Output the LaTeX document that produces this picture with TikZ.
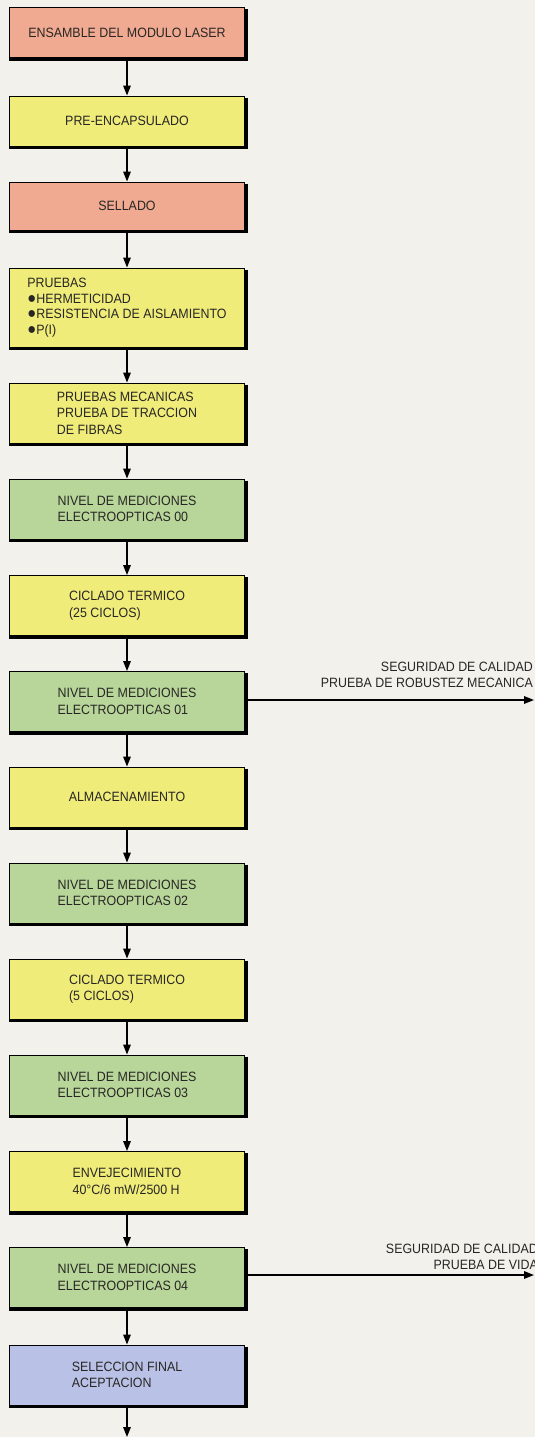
\documentclass[tikz,border=0pt]{standalone}
\usepackage{fontspec}
\setmainfont{Liberation Sans}[FakeStretch=0.92]
\usetikzlibrary{arrows.meta}
\definecolor{paper}{RGB}{243,241,236}
\definecolor{salmon}{RGB}{240,170,145}
\definecolor{lemon}{RGB}{240,236,122}
\definecolor{sage}{RGB}{184,214,154}
\definecolor{lavender}{RGB}{186,193,230}
\definecolor{ink}{RGB}{40,38,36}
% list bullet, drawn a little larger than the text
\newcommand{\listdot}{{\fontsize{16}{15.5}\selectfont●}}
\begin{document}
\begin{tikzpicture}[x=1pt,y=-1pt,
  stage/.style={draw=black, line width=1pt, minimum width=235pt, minimum height=60pt,
    align=left, inner sep=0pt, text=ink, font=\fontsize{13.5}{16.5}\selectfont},
  flow/.style={line width=1.5pt, -{Triangle[width=7.5pt,length=10pt]}},
  note/.style={anchor=south east, align=right, inner sep=0pt, text=ink, font=\fontsize{13.5}{16.5}\selectfont}]
\fill[paper] (0,0) rectangle (535,1437);
\useasboundingbox (0,0) rectangle (535,1437);

% process stages, top to bottom
\node[stage, fill=salmon, minimum height=50pt] (s1) at (127,33) {ENSAMBLE DEL MODULO LASER};
\node[stage, fill=lemon, minimum height=50pt] (s2) at (127,121) {PRE-ENCAPSULADO};
\node[stage, fill=salmon, minimum height=48pt] (s3) at (127,206) {SELLADO};
\node[stage, fill=lemon, minimum height=79pt, font=\fontsize{13.5}{15.5}\selectfont] (s4) at (127,307.5)
  {PRUEBAS\\\listdot HERMETICIDAD\\\listdot RESISTENCIA DE AISLAMIENTO\\\listdot P(I)};
\node[stage, fill=lemon] (s5) at (127,413) {PRUEBAS MECANICAS\\PRUEBA DE TRACCION\\DE FIBRAS};
\node[stage, fill=sage] (s6) at (127,509) {NIVEL DE MEDICIONES\\ELECTROOPTICAS 00};
\node[stage, fill=lemon] (s7) at (127,605.5) {CICLADO TERMICO\\(25 CICLOS)};
\node[stage, fill=sage] (s8) at (127,701.5) {NIVEL DE MEDICIONES\\ELECTROOPTICAS 01};
\node[stage, fill=lemon] (s9) at (127,797) {ALMACENAMIENTO};
\node[stage, fill=sage] (s10) at (127,893) {NIVEL DE MEDICIONES\\ELECTROOPTICAS 02};
\node[stage, fill=lemon] (s11) at (127,989) {CICLADO TERMICO\\(5 CICLOS)};
\node[stage, fill=sage] (s12) at (127,1085) {NIVEL DE MEDICIONES\\ELECTROOPTICAS 03};
\node[stage, fill=lemon] (s13) at (127,1181.5) {ENVEJECIMIENTO\\40°C/6 mW/2500 H};
\node[stage, fill=sage] (s14) at (127,1277.5) {NIVEL DE MEDICIONES\\ELECTROOPTICAS 04};
\node[stage, fill=lavender] (s15) at (127,1375) {SELECCION FINAL\\ACEPTACION};

% heavy right and bottom edges of every stage
\foreach \n in {s1,s2,s3,s4,s5,s6,s7,s8,s9,s10,s11,s12,s13,s14,s15}
  \draw[line width=3.4pt] ([xshift=1.2pt,yshift=-2pt]\n.north east) -- ([xshift=1.2pt,yshift=-1.2pt]\n.south east)
    -- ([yshift=-1.2pt]\n.south west);

% main flow
\foreach \a/\b in {s1/s2,s2/s3,s3/s4,s4/s5,s5/s6,s6/s7,s7/s8,s8/s9,s9/s10,s10/s11,s11/s12,s12/s13,s13/s14,s14/s15}
  \draw[flow] ([yshift=-2.5pt]\a.south) -- (\b.north);
\coordinate (out) at (127,1437);
\draw[flow] ([yshift=-2.5pt]s15.south) -- (out);

% quality assurance branches
\coordinate (qa1) at (534,700);
\draw[flow] ([xshift=2.5pt]s8.east |- qa1) -- (qa1);
\node[note] (n1) at (533,688) {SEGURIDAD DE CALIDAD\\PRUEBA DE ROBUSTEZ MECANICA};
\coordinate (qa2) at (534,1275);
\draw[flow] ([xshift=2.5pt]s14.east |- qa2) -- (qa2);
\node[note] (n2) at (538,1270) {SEGURIDAD DE CALIDAD\\PRUEBA DE VIDA};
\end{tikzpicture}
\end{document}
